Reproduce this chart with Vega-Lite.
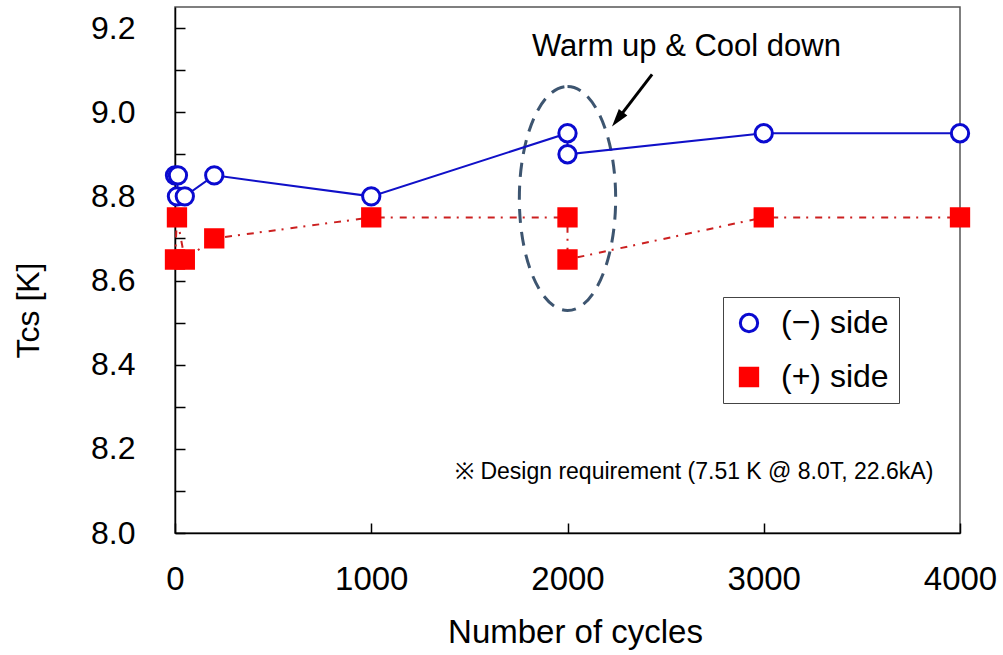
{
  "$schema": "https://vega.github.io/schema/vega-lite/v6.json",
  "width": 785,
  "height": 526,
  "autosize": {"type": "none"},
  "padding": {"left": 175, "top": 7, "right": 43, "bottom": 122},
  "background": "white",
  "config": {
    "view": {"stroke": "#555", "strokeWidth": 1.5},
    "font": "Liberation Sans",
    "axis": {
      "grid": false,
      "domainColor": "#000",
      "domainWidth": 1.5,
      "tickColor": "#000",
      "tickWidth": 1.5,
      "tickSize": -10,
      "labelColor": "#000",
      "titleColor": "#000",
      "titleFontWeight": "normal",
      "labelFont": "Liberation Sans",
      "titleFont": "Liberation Sans"
    },
    "legend": {
      "labelFontSize": 32,
      "labelColor": "#000",
      "labelOffset": 16,
      "symbolSize": 300,
      "symbolStrokeWidth": 3,
      "rowPadding": 22,
      "padding": 10,
      "strokeColor": "#444",
      "fillColor": "white"
    }
  },
  "datasets": {
    "series": [
      {"seq": 1, "side": "(−) side", "cycles": 0, "tcs": 8.85},
      {"seq": 2, "side": "(−) side", "cycles": 15, "tcs": 8.85},
      {"seq": 3, "side": "(−) side", "cycles": 10, "tcs": 8.8},
      {"seq": 4, "side": "(−) side", "cycles": 50, "tcs": 8.8},
      {"seq": 5, "side": "(−) side", "cycles": 200, "tcs": 8.85},
      {"seq": 6, "side": "(−) side", "cycles": 1000, "tcs": 8.8},
      {"seq": 7, "side": "(−) side", "cycles": 2000, "tcs": 8.95},
      {"seq": 8, "side": "(−) side", "cycles": 2000, "tcs": 8.9},
      {"seq": 9, "side": "(−) side", "cycles": 3000, "tcs": 8.95},
      {"seq": 10, "side": "(−) side", "cycles": 4000, "tcs": 8.95},
      {"seq": 1, "side": "(+) side", "cycles": 0, "tcs": 8.65},
      {"seq": 2, "side": "(+) side", "cycles": 10, "tcs": 8.75},
      {"seq": 3, "side": "(+) side", "cycles": 50, "tcs": 8.65},
      {"seq": 4, "side": "(+) side", "cycles": 200, "tcs": 8.7},
      {"seq": 5, "side": "(+) side", "cycles": 1000, "tcs": 8.75},
      {"seq": 6, "side": "(+) side", "cycles": 2000, "tcs": 8.75},
      {"seq": 7, "side": "(+) side", "cycles": 2000, "tcs": 8.65},
      {"seq": 8, "side": "(+) side", "cycles": 3000, "tcs": 8.75},
      {"seq": 9, "side": "(+) side", "cycles": 4000, "tcs": 8.75}
    ]
  },
  "encoding": {
    "x": {
      "field": "cycles",
      "type": "quantitative",
      "scale": {"domain": [0, 4000], "nice": false, "zero": false},
      "axis": {
        "values": [0, 1000, 2000, 3000, 4000],
        "format": "d",
        "labelFontSize": 33,
        "labelPadding": 40,
        "labelFlush": false,
        "labelOverlap": false,
        "title": "Number of cycles",
        "titleFontSize": 33,
        "titleX": 400,
        "titleY": 99,
        "titleAlign": "center",
        "titleBaseline": "middle"
      }
    },
    "y": {
      "field": "tcs",
      "type": "quantitative",
      "scale": {"domain": [8.0, 9.25], "nice": false, "zero": false},
      "axis": {
        "values": [8.0, 8.1, 8.2, 8.3, 8.4, 8.5, 8.6, 8.7, 8.8, 8.9, 9.0, 9.1, 9.2],
        "labelExpr": "round(datum.value*10) % 2 == 0 ? format(datum.value, '.1f') : ''",
        "labelFontSize": 32,
        "labelPadding": 50,
        "labelOverlap": false,
        "title": "Tcs [K]",
        "titleFontSize": 32,
        "titleX": -147,
        "titleY": 303,
        "titleAlign": "center",
        "titleBaseline": "middle"
      }
    }
  },
  "layer": [
    {
      "data": {"values": [{"cycles": 2000, "tcs": 8.795}]},
      "mark": {
        "type": "point",
        "shape": "M0,-1A0.43,1,0,1,1,0,1A0.43,1,0,1,1,0,-1Z",
        "size": 50176,
        "filled": false,
        "stroke": "#3d5570",
        "strokeWidth": 3,
        "strokeDash": [14, 9],
        "opacity": 1
      }
    },
    {
      "data": {"name": "series"},
      "transform": [{"filter": "datum.side === '(−) side'"}],
      "mark": {"type": "line", "strokeWidth": 2, "stroke": "#1010c8"},
      "encoding": {
        "order": {"field": "seq", "type": "quantitative"}
      }
    },
    {
      "data": {"name": "series"},
      "transform": [{"filter": "datum.side === '(+) side'"}],
      "mark": {"type": "line", "strokeWidth": 2, "stroke": "#cc2020", "strokeDash": [7, 6, 2, 7]},
      "encoding": {
        "order": {"field": "seq", "type": "quantitative"}
      }
    },
    {
      "data": {"name": "series"},
      "mark": {"type": "point", "size": 300, "strokeWidth": 3, "opacity": 1},
      "encoding": {
        "shape": {
          "field": "side",
          "type": "nominal",
          "scale": {"domain": ["(−) side", "(+) side"], "range": ["circle", "square"]},
          "legend": {
            "title": null, "orient": "none", "legendX": 548, "legendY": 290,
            "encode": {"symbols": {"update": {"shape": {"signal": "datum.value === '(+) side' ? 'M-2.3,0L-1,0M1,0L2.3,0M-1,-1L1,-1L1,1L-1,1Z' : 'M-2.3,0L-1,0M1,0L2.3,0M-1,0A1,1,0,1,1,1,0A1,1,0,1,1,-1,0Z'"}}}}
          }
        },
        "fill": {
          "field": "side",
          "type": "nominal",
          "scale": {"domain": ["(−) side", "(+) side"], "range": ["white", "#ff0000"]},
          "legend": {
            "title": null, "orient": "none", "legendX": 548, "legendY": 290,
            "encode": {"symbols": {"update": {"shape": {"signal": "datum.value === '(+) side' ? 'M-2.3,0L-1,0M1,0L2.3,0M-1,-1L1,-1L1,1L-1,1Z' : 'M-2.3,0L-1,0M1,0L2.3,0M-1,0A1,1,0,1,1,1,0A1,1,0,1,1,-1,0Z'"}}}}
          }
        },
        "stroke": {
          "field": "side",
          "type": "nominal",
          "scale": {"domain": ["(−) side", "(+) side"], "range": ["#0a0ad0", "#ff0000"]},
          "legend": {
            "title": null, "orient": "none", "legendX": 548, "legendY": 290,
            "encode": {"symbols": {"update": {"shape": {"signal": "datum.value === '(+) side' ? 'M-2.3,0L-1,0M1,0L2.3,0M-1,-1L1,-1L1,1L-1,1Z' : 'M-2.3,0L-1,0M1,0L2.3,0M-1,0A1,1,0,1,1,1,0A1,1,0,1,1,-1,0Z'"}}}}
          }
        }
      }
    },
    {
      "data": {"values": [{"cycles": 2431, "tcs": 9.09, "x2": 2255, "y2": 8.983}]},
      "mark": {"type": "rule", "stroke": "#000", "strokeWidth": 3},
      "encoding": {
        "x2": {"field": "x2"},
        "y2": {"field": "y2"}
      }
    },
    {
      "data": {"values": [{"cycles": 2255, "tcs": 8.983}]},
      "mark": {
        "type": "point",
        "shape": "M0,-1L0.6,1L-0.6,1Z",
        "size": 324,
        "angle": 218,
        "filled": true,
        "fill": "#000",
        "opacity": 1
      }
    },
    {
      "data": {"values": [{"cycles": 1819, "tcs": 9.155, "label": "Warm up & Cool down"}]},
      "mark": {"type": "text", "align": "left", "baseline": "middle", "fontSize": 31, "font": "Liberation Sans", "color": "#000"},
      "encoding": {
        "text": {"field": "label"}
      }
    },
    {
      "data": {"values": [{"cycles": 1427, "tcs": 8.145, "label": "※ Design requirement (7.51 K @ 8.0T, 22.6kA)"}]},
      "mark": {"type": "text", "align": "left", "baseline": "middle", "fontSize": 23, "font": "Liberation Sans", "color": "#000"},
      "encoding": {
        "text": {"field": "label"}
      }
    }
  ]
}
